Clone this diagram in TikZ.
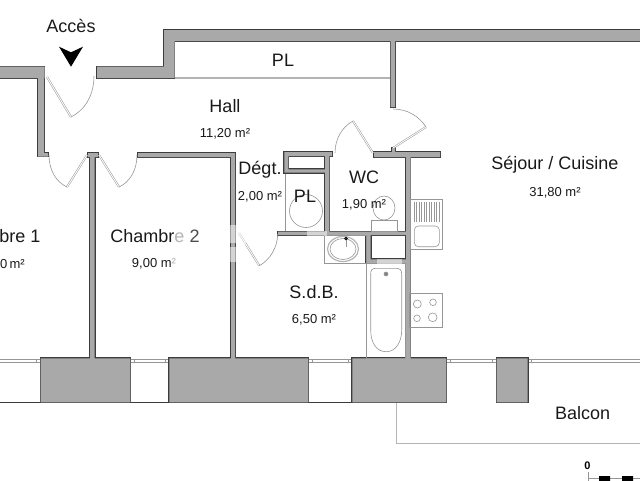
\documentclass[tikz,border=0pt]{standalone}
\usepackage{fontspec}
\setmainfont{Liberation Sans}
\definecolor{wallgray}{HTML}{A9A9A9}
\definecolor{walldark}{HTML}{3C3C3C}
\definecolor{fixgray}{HTML}{969696}
\definecolor{pale}{HTML}{B4B4B4}
\newcommand{\area}[1]{#1~m²}
\begin{document}
\begin{tikzpicture}
[x=1pt,y=-1pt,
wall/.style={fill=wallgray,preaction={draw=walldark,line width=1.7pt}},
room/.style={font=\fontsize{18}{20}\selectfont,inner sep=0pt,text=black!90},
surf/.style={font=\fontsize{13}{15}\selectfont,inner sep=0pt,text=black!90},
fixture/.style={draw=fixgray,line width=.6pt},
swing/.style={draw=fixgray,line width=.6pt},
leaf/.style={draw=fixgray,line width=.5pt,double=white,double distance=.9pt},
limit/.style={draw=pale,line width=1.2pt},
veil/.style={fill=white,fill opacity=.5}]
\useasboundingbox (0,0) rectangle (640,480);
%%
% thin limits
%%
\draw[limit] (174.5,78) -- (391,78);
\draw[limit] (396.7,402) -- (396.7,443.7) -- (641,443.7);
\draw[fixture] (285,172) -- (285,232);
%%
% windows
%%
\foreach \xa/\xb in {-5/40.7,130.3/169.3,308.3/352.3,446.3/496.7,527.7/645} {
  \draw[fixture,fill=white] (\xa,359.3) rectangle (\xb,362.7);
  \draw[fixture] (\xa+4,359.3) -- (\xa+4,362.7) (\xb-4,359.3) -- (\xb-4,362.7);
}
\draw[walldark,line width=.8pt] (-1,402.3) -- (352.3,402.3);
%%
% walls
%%
\path[wall]
(-2,66.5) rectangle (44.5,78)
(38,78) rectangle (44,155)
(38,153) rectangle (48,156.5)
(97,66.5) -- (164,66.5) -- (164,30) -- (645,30) -- (645,41) -- (174.5,41) -- (174.5,78) -- (97,78) -- cycle
(390.7,41) rectangle (395,107)
(88,153) rectangle (98,157)
(90,157) rectangle (94.7,358.5)
(138,153) rectangle (235,157)
(231,157) rectangle (235,358.5)
(284.3,152) rectangle (332,156)
(284.3,152) rectangle (288.3,172.7)
(284.3,169.3) rectangle (329,172.7)
(325,152) rectangle (329.3,232)
(374,152) rectangle (440,157)
(392,148) rectangle (395,152)
(406,157) rectangle (410.5,358.5)
(278,231.7) rectangle (407,235)
(366,235) rectangle (370.7,263.3)
(366,259.3) rectangle (406,263.3)
(40.7,358.3) rectangle (130.3,402.3)
(169.3,358.3) rectangle (308.3,402.3)
(352.3,358.3) rectangle (446.3,402.3)
(496.7,358.3) rectangle (527.7,402.3);
%%
% doors
%%
\draw[leaf] (47,77) -- (71,117);
\draw[swing] (71,117) .. controls (85,110) and (94,95) .. (94,76);
\draw[leaf] (87,155) -- (67,187);
\draw[swing] (67,187) .. controls (56,182) and (49,170) .. (49,155);
\draw[leaf] (99,155) -- (119,187);
\draw[swing] (119,187) .. controls (130,182) and (137,170) .. (137,155);
\draw[leaf] (393,148) -- (426,127);
\draw[swing] (426,127) .. controls (419,116) and (407,109) .. (393,109);
\draw[leaf] (373,153) -- (353,121);
\draw[swing] (353,121) .. controls (342,127) and (335,139) .. (335,153);
\draw[leaf] (239,233) -- (259.3,265.7);
\draw[swing] (259.3,265.7) .. controls (270,260) and (277.7,247) .. (277.7,234);
%%
% fixtures
%%
\draw[fixture] (306,211) circle (16.5);
\draw[fixture] (384,208) ellipse (11 and 12);
\draw[fixture,fill=white] (371,220.7) rectangle (397.7,231);
% kitchen
\draw[fixture] (410.5,199) rectangle (442.7,249);
\foreach \xh in {414,416.5,...,440} {
  \draw[fixture,line width=.4pt] (\xh,201.7) -- (\xh,221.7);
}
\draw[fixture,rounded corners=4pt] (414.3,226) rectangle (439.3,246.7);
\draw[fixture] (409.5,293.3) rectangle (442.7,327.3);
\draw[fixture] (417.3,304) circle (4);
\draw[fixture] (433,302.3) circle (3.3);
\draw[fixture] (417,318.3) circle (3.3);
\draw[fixture] (432.7,317.3) circle (4.4);
% bathroom
\draw[fixture] (324.3,235) rectangle (366,263);
\draw[fixture,line width=1.2pt,draw=pale] (343,249) ellipse (15.5 and 12.5);
\draw[fixture,fill=white] (343,249) ellipse (13 and 10.5);
\draw[fixture] (346,238) -- (346,247);
\draw[fill=walldark] (346,238.5) circle (1.5);
\draw[fixture] (366.7,263.3) rectangle (405.5,358);
\draw[fixture] (370.7,274) .. controls (370.7,270) and (372,268.3) .. (376,268.3) -- (396,268.3) .. controls (400,268.3) and (401.7,270) .. (401.7,274)
  -- (401.7,330) .. controls (401.7,342) and (396,351.7) .. (386,351.7) .. controls (376,351.7) and (370.7,342) .. (370.7,330) -- cycle;
\draw[fixture,fill=gray] (386,274) circle (2);
%%
% washed out parts
%%
\fill[veil] (230,225) rectangle (236,243);
\fill[veil] (230,247) rectangle (236,262);
\fill[veil] (238,231) rectangle (246,245);
\fill[veil] (307,231) rectangle (327,236);
\fill[veil] (377,258.5) rectangle (402,264);
%%
% entrance
%%
\node (acces) at (71,26) [room] {Accès};
\fill (59,46.7) -- (71,52.3) -- (83,46.7) -- (71,66.7) -- cycle;
%%
% rooms
%%
\node (pl1) at (283,60) [room] {PL};
\node (hall) at (225,106) [room] {Hall};
\node (hallm) at (225,134) [surf] {\area{11,20}};
\node (degt) at (260,170) [room] {Dégt.};
\node (degtm) at (260,197) [surf] {\area{2,00}};
\node (pl2) at (305,196) [room] {PL};
\node (wc) at (364,177) [room] {WC};
\node (wcm) at (364,205) [surf] {\area{1,90}};
\node (sejour) at (555,165) [room] {Séjour / Cuisine};
\node (sejourm) at (555,193) [surf] {\area{31,80}};
\node (ch1) [room,anchor=east] at (40.5,236) {bre 1};
\node (ch1m) [surf,anchor=west] at (0,264) {0\,m²};
\node (ch2) at (155,236) [room] {Chambr{\color{black!30}e}~{\color{black!70}2}};
\node (ch2m) at (154,264) [surf] {9,00~m{\color{black!30}²}};
\node (sdb) at (314,292) [room] {S.d.B.};
\node (sdbm) at (314,320) [surf] {\area{6,50}};
\node (balcon) at (582.7,412.7) [room] {Balcon};
%%
% scale
%%
\node (zero) at (587.5,466) [font=\fontsize{11}{12}\selectfont\bfseries,inner sep=0pt] {0};
\draw[fixture] (588,472) -- (588,481) (588,478) -- (641,478);
\fill (599,476) rectangle (610,481) (622,476) rectangle (633,481);
\end{tikzpicture}
\end{document}
